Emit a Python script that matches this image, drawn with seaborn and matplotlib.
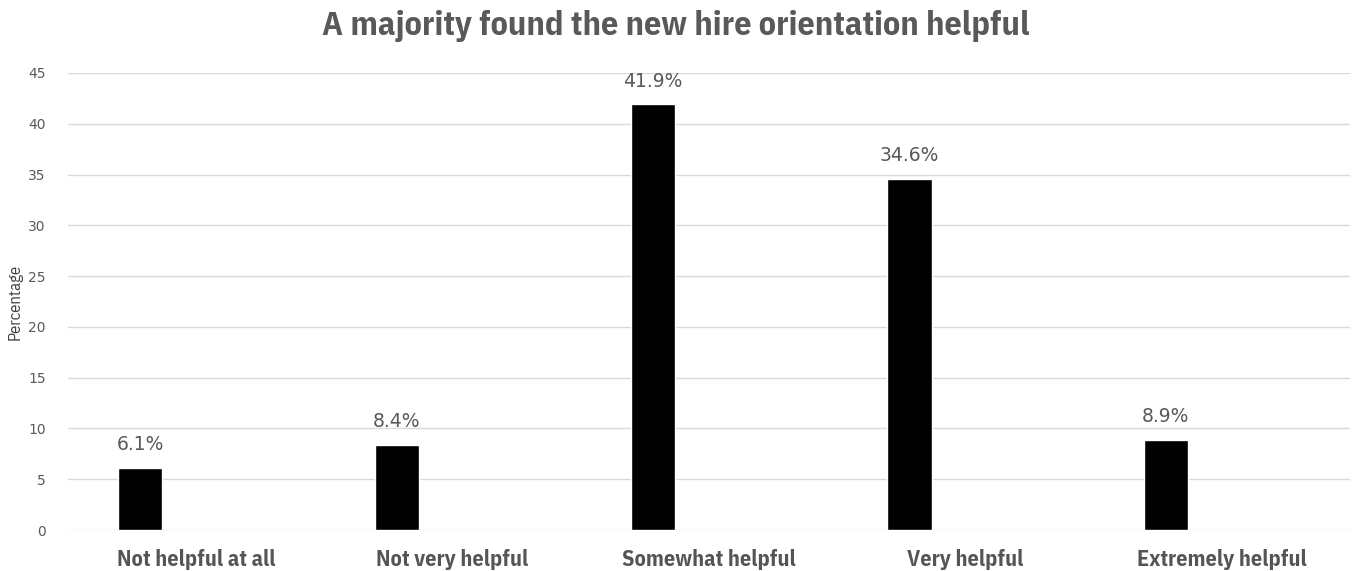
import matplotlib
matplotlib.use("Agg")
import matplotlib.pyplot as plt
import seaborn as sns
import pandas as pd

categories = ["Not helpful at all", "Not very helpful", "Somewhat helpful", "Very helpful", "Extremely helpful"]
values = [6.1, 8.4, 41.9, 34.6, 8.9]
value_labels = ["6.1%", "8.4%", "41.9%", "34.6%", "8.9%"]
yticks = [0, 5, 10, 15, 20, 25, 30, 35, 40, 45]

COND = ['IBM Plex Sans Condensed', 'DejaVu Sans']
WIDE = ['DejaVu Sans']

sns.set_theme(style="white")
plt.rcParams['font.family'] = COND

df = pd.DataFrame({"category": categories, "value": values})

fig = plt.figure(figsize=(13.56, 5.71), dpi=100)
ax = fig.add_axes([68/1356, 1-530/571, 1282/1356, (530-73)/571])

sns.barplot(data=df, x="category", y="value", color="black", width=0.172,
            saturation=1, ax=ax, zorder=3)

off = 0.218
ax.set_xlim(-0.5 + off, len(categories) - 0.5 + off)
ax.set_ylim(0, 45)
ax.set_xticks([i + off for i in range(len(categories))])
ax.set_xticklabels(categories, fontsize=16, fontweight="bold", color="#555555",
                   family=COND)
ax.set_yticks(yticks)
ax.set_yticklabels([str(t) for t in yticks], fontsize=10, color="#595959",
                   family=WIDE)
ax.tick_params(axis="both", length=0)
ax.tick_params(axis="x", pad=14)
ax.tick_params(axis="y", pad=16)
ax.grid(axis="y", color="#d9d9d9", linewidth=1, zorder=0)
ax.set_axisbelow(True)
for s in ax.spines.values():
    s.set_visible(False)

ax.bar_label(ax.containers[0], labels=value_labels, padding=10, fontsize=13.5,
             color="#595959", family=WIDE)

ax.set_xlabel("")
ax.set_ylabel("Percentage", fontsize=12, color="#404040",
              family=COND, labelpad=4)

fig.text(676/1356, 1-26/571, "A majority found the new hire orientation helpful",
         ha="center", va="center", fontsize=24.6, fontweight="bold", color="#595959",
         family=COND)

fig.savefig("out.png", dpi=100, facecolor="white")
